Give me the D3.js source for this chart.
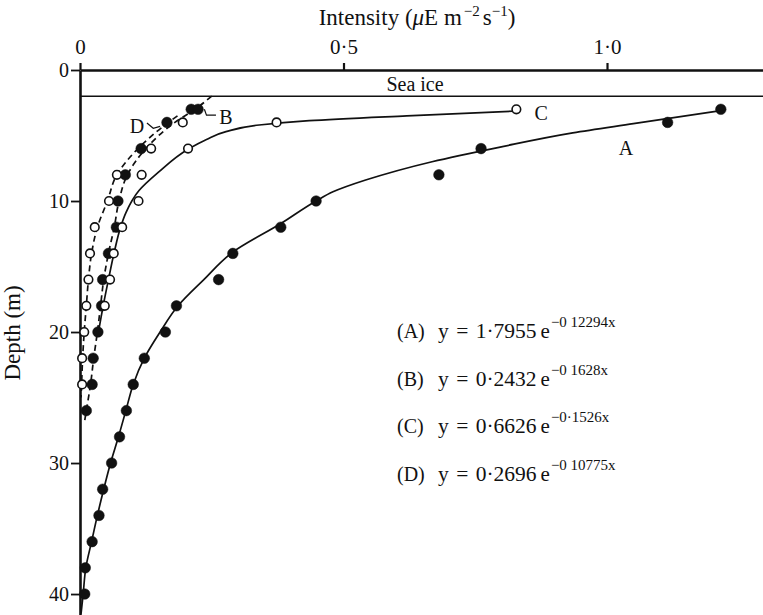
<!DOCTYPE html>
<html>
<head>
<meta charset="utf-8">
<script src="https://cdn.jsdelivr.net/npm/d3@7"></script>
<style>
  html, body { margin: 0; padding: 0; background: #fff; }
  svg { display: block; }
  text { font-family: "Liberation Serif", "DejaVu Serif", serif; fill: #111; }
</style>
</head>
<body>
<svg id="chart" width="763" height="615"></svg>
<script>
// Measured light profiles under sea ice: depth (m) and intensity
const depthsA = [3, 4, 6, 8, 10, 12, 14, 16, 18, 20, 22, 24, 26, 28, 30, 32, 34, 36, 38, 40];
const intensityA = [1.216, 1.115, 0.761, 0.681, 0.448, 0.381, 0.290, 0.263, 0.183, 0.162, 0.122, 0.101, 0.088, 0.075, 0.060, 0.043, 0.036, 0.023, 0.010, 0.009];

const depthsB = [3, 3, 4, 6, 8, 10, 12, 14, 16, 18, 20, 22, 24, 26];
const intensityB = [0.211, 0.224, 0.165, 0.116, 0.086, 0.072, 0.069, 0.054, 0.043, 0.041, 0.034, 0.025, 0.023, 0.012];

const depthsC = [3, 4, 6, 8, 10, 12, 14, 16, 18];
const intensityC = [0.828, 0.373, 0.205, 0.117, 0.111, 0.080, 0.064, 0.057, 0.047];

const depthsD = [4, 6, 8, 10, 12, 14, 16, 18, 20, 22, 24];
const intensityD = [0.195, 0.135, 0.070, 0.055, 0.028, 0.019, 0.016, 0.012, 0.008, 0.004, 0.004];

// Fitted curves, sampled along depth
const fitDepthA = [3.1, 4.1, 4.8, 5.9, 7.0, 8.4, 9.3, 10, 11.7, 13.9, 16, 18, 20, 22, 24, 26, 28, 30, 32, 34, 36, 38, 40, 41.5];
const fitA = [1.216, 1.05, 0.935, 0.795, 0.668, 0.542, 0.48, 0.448, 0.382, 0.29, 0.235, 0.186, 0.152, 0.122, 0.101, 0.087, 0.073, 0.058, 0.045, 0.033, 0.022, 0.011, 0.006, 0.002];

const fitDepthB = [2.0, 3, 4, 6, 8, 10, 12, 14, 16, 18, 20, 22, 24, 26, 27];
const fitB = [0.25, 0.218, 0.18, 0.125, 0.09, 0.074, 0.065, 0.054, 0.045, 0.039, 0.033, 0.026, 0.02, 0.012, 0.008];

const fitDepthC = [3.13, 3.5, 3.87, 4.2, 4.7, 5.3, 6.05, 7.8, 9.2, 10.9, 12, 13.9, 16, 18, 20];
const fitC = [0.828, 0.62, 0.435, 0.34, 0.277, 0.24, 0.205, 0.149, 0.112, 0.087, 0.077, 0.065, 0.054, 0.044, 0.035];

const fitDepthD = [3.5, 4.3, 6, 8, 10, 12, 14, 16, 18, 20, 22, 24, 25];
const fitD = [0.185, 0.158, 0.11, 0.07, 0.052, 0.033, 0.022, 0.016, 0.012, 0.008, 0.005, 0.003, 0.002];

// Axis ticks and labels
const xTicks = [0, 0.5, 1.0];
const xTickLabels = ["0", "0·5", "1·0"];
const yTicks = [0, 10, 20, 30, 40];
const seaIceDepth = 2;

const equationLabels = ["(A)", "(B)", "(C)", "(D)"];
const equationBodies = ["y = 1·7955", "y = 0·2432", "y = 0·6626", "y = 0·2696"];
const equationExponents = ["−0 12294x", "−0 1628x", "−0·1526x", "−0 10775x"];

const curveLabels = ["A", "B", "C", "D"];
const curveLabelAt = [[1.036, 5.95], [0.277, 3.6], [0.875, 3.28], [0.108, 4.25]];

const svg = d3.select("#chart");

const x = d3.scaleLinear().domain([0, 1.296]).range([80, 763]);
const y = d3.scaleLinear().domain([0, 41.6]).range([70, 615]);

// Top intensity axis
const xAxis = d3.axisTop(x).tickValues(xTicks).tickSize(7).tickSizeOuter(0)
  .tickFormat((d, i) => xTickLabels[i]);
const gx = svg.append("g").attr("transform", `translate(0,${y(0)})`).call(xAxis);
gx.select(".domain").attr("stroke", "#111").attr("stroke-width", 2.6);
gx.selectAll(".tick line").attr("stroke", "#111").attr("stroke-width", 2.2);
gx.selectAll(".tick text").attr("font-size", 21).attr("dy", "-0.3em")
  .attr("font-family", "Liberation Serif, serif").attr("fill", "#111");

// Left depth axis
const yAxis = d3.axisLeft(y).tickValues(yTicks).tickSize(9).tickSizeOuter(0);
const gy = svg.append("g").attr("transform", `translate(${x(0)},0)`).call(yAxis);
gy.select(".domain").attr("stroke", "#111").attr("stroke-width", 2.6);
gy.selectAll(".tick line").attr("stroke", "#111").attr("stroke-width", 1.8);
gy.selectAll(".tick text").attr("font-size", 20).attr("x", -11)
  .attr("font-family", "Liberation Serif, serif").attr("fill", "#111");

// Axis titles
const title = svg.append("text").attr("x", 417).attr("y", 25)
  .attr("text-anchor", "middle").attr("font-size", 23);
title.append("tspan").text("Intensity (");
title.append("tspan").attr("font-style", "italic").text("μ");
title.append("tspan").text("E m");
title.append("tspan").attr("font-size", 15).attr("dy", -9).attr("dx", 2).text("−2");
title.append("tspan").attr("dy", 9).attr("dx", 3).text("s");
title.append("tspan").attr("font-size", 15).attr("dy", -9).text("−1");
title.append("tspan").attr("dy", 9).text(")");

svg.append("text").attr("transform", "translate(20,333) rotate(-90)")
  .attr("text-anchor", "middle").attr("font-size", 23).text("Depth (m)");

// Sea ice layer
svg.append("line")
  .attr("x1", x(0)).attr("x2", x(1.296))
  .attr("y1", y(seaIceDepth)).attr("y2", y(seaIceDepth))
  .attr("stroke", "#111").attr("stroke-width", 1.6);
svg.append("text").attr("x", 415).attr("y", y(seaIceDepth) - 5)
  .attr("text-anchor", "middle").attr("font-size", 20).text("Sea ice");

// Curves
const line = d3.line().x(d => x(d[1])).y(d => y(d[0])).curve(d3.curveMonotoneY);
const pairs = (ds, vs) => ds.map((d, i) => [d, vs[i]]);

const curves = [
  { pts: pairs(fitDepthA, fitA), dash: null },
  { pts: pairs(fitDepthB, fitB), dash: "6,4" },
  { pts: pairs(fitDepthC, fitC), dash: null },
  { pts: pairs(fitDepthD, fitD), dash: "6,4" }
];
svg.append("g").selectAll("path").data(curves).join("path")
  .attr("d", c => line(c.pts))
  .attr("fill", "none").attr("stroke", "#111").attr("stroke-width", 1.7)
  .attr("stroke-dasharray", c => c.dash);

// Observation markers
const series = [
  { pts: pairs(depthsA, intensityA), filled: true },
  { pts: pairs(depthsB, intensityB), filled: true },
  { pts: pairs(depthsC, intensityC), filled: false },
  { pts: pairs(depthsD, intensityD), filled: false }
];
series.forEach(s => {
  svg.append("g").selectAll("circle").data(s.pts).join("circle")
    .attr("cx", d => x(d[1])).attr("cy", d => y(d[0]))
    .attr("r", s.filled ? 5.3 : 4.3)
    .attr("fill", s.filled ? "#111" : "#fff")
    .attr("stroke", "#111").attr("stroke-width", s.filled ? 0.5 : 1.6);
});

// Curve labels and leaders
svg.append("g").selectAll("text").data(curveLabels).join("text")
  .attr("x", (d, i) => x(curveLabelAt[i][0])).attr("y", (d, i) => y(curveLabelAt[i][1]))
  .attr("text-anchor", "middle").attr("dominant-baseline", "central")
  .attr("font-size", 20).text(d => d);

const leader = d3.line();
svg.append("path").attr("d", leader([[x(0.127), y(4.05)], [x(0.139), y(4.45)], [x(0.152), y(4.3)]]))
  .attr("fill", "none").attr("stroke", "#111").attr("stroke-width", 1.2);
svg.append("path").attr("d", leader([[x(0.236), y(3.0)], [x(0.240), y(3.45)], [x(0.258), y(3.45)]]))
  .attr("fill", "none").attr("stroke", "#111").attr("stroke-width", 1.2);

// Regression equations: label, coefficient, then e with its exponent
const eqY = [338, 386, 433, 481];
equationLabels.forEach((lab, i) => {
  svg.append("text").attr("x", 397).attr("y", eqY[i]).attr("font-size", 20).text(lab);
  const body = svg.append("text").attr("x", 438).attr("y", eqY[i]).attr("font-size", 21.5)
    .attr("word-spacing", 2).text(equationBodies[i]);
  const bodyEnd = 438 + body.node().getComputedTextLength() + 4;
  const t = svg.append("text").attr("x", bodyEnd).attr("y", eqY[i]).attr("font-size", 21);
  t.append("tspan").text("e");
  t.append("tspan").attr("font-size", 15).attr("dy", -11).attr("dx", 1).text(equationExponents[i]);
});
</script>
</body>
</html>
